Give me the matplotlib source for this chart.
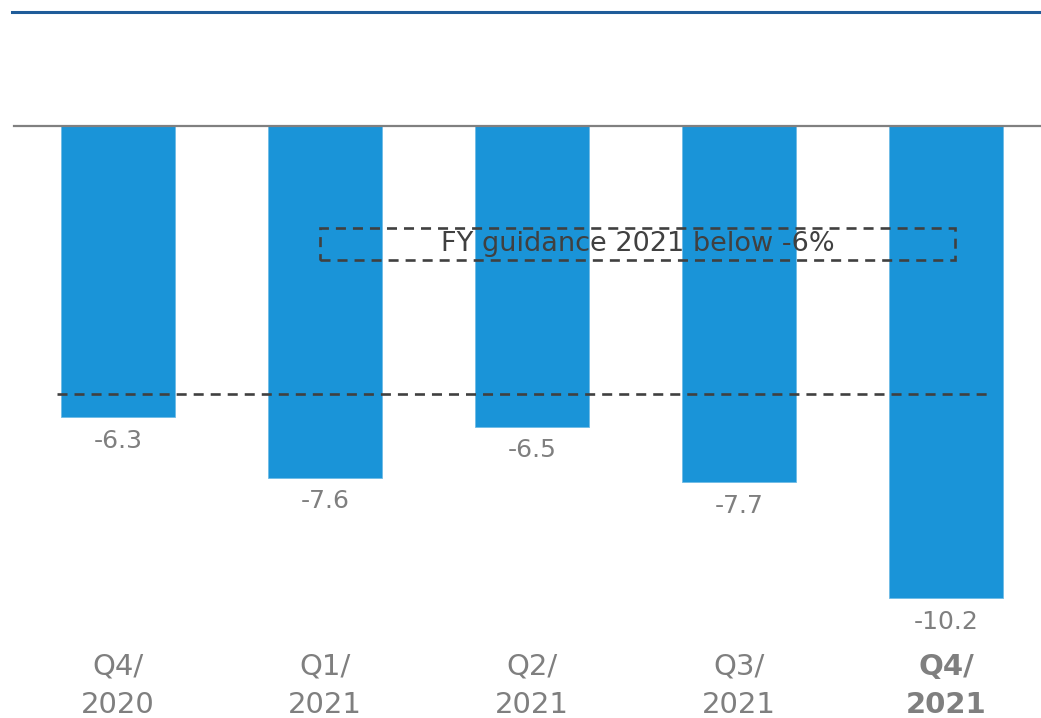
import matplotlib.pyplot as plt
from matplotlib.patches import Rectangle

# data
quarters = ['Q4/\n2020', 'Q1/\n2021', 'Q2/\n2021', 'Q3/\n2021', 'Q4/\n2021']
values = [-6.3, -7.6, -6.5, -7.7, -10.2]
avg_line = -5.8
guidance_text = 'FY guidance 2021 below -6%'

bar_col = '#1a94d8'
grey = '#7f7f7f'
dark = '#404040'

fig = plt.figure(figsize=(10.41, 7.18), dpi=100)
ax = fig.add_axes([0, 0, 1, 1])

x = list(range(len(values)))
ax.bar(x, values, width=0.551, color=bar_col, edgecolor='#6fbbe6', linewidth=0.6, zorder=2)

ax.set_xlim(-0.570, 4.459)
ax.set_ylim(-12.795, 2.723)
ax.axis('off')

# baseline and top rule
ax.axhline(0, xmin=14/1041, xmax=1, color='#808080', lw=1.6, zorder=3)
ax.axhline(2.464, xmin=12/1041, xmax=1, color='#1f5c99', lw=2.2, zorder=3)

# dashed reference line
dash = (0, (3.8, 2.65))
ax.hlines(avg_line, -0.295, 4.227, colors=dark, lw=1.9, linestyles=dash, zorder=4)

# guidance box
box = Rectangle((0.976, -2.896), 4.043 - 0.976, 0.692, fill=False,
                edgecolor=dark, lw=1.9, linestyle=dash, zorder=4)
ax.add_patch(box)
ax.text((0.976 + 4.043) / 2, -2.55, guidance_text, ha='center', va='center',
        fontsize=19.5, color=dark, zorder=5)

# value labels
for xi, v in zip(x, values):
    ax.annotate(f'{v:.1f}', (xi, v), xytext=(0, -17), textcoords='offset points',
                ha='center', va='center', fontsize=18, color=grey)

# category labels
for i, q in enumerate(quarters):
    ax.text(i, 0.045, q, transform=ax.get_xaxis_transform(), ha='center', va='center',
            fontsize=21, color=grey, linespacing=1.45,
            fontweight='bold' if i == len(quarters) - 1 else 'normal')

fig.savefig('out.png', dpi=100)
